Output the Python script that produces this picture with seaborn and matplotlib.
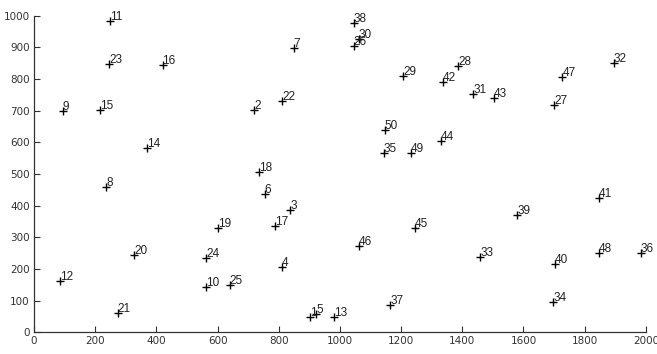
import matplotlib
matplotlib.use("Agg")
import matplotlib.pyplot as plt
from matplotlib import font_manager
import seaborn as sns
import pandas as pd

# point ids and their coordinates
ids = list(range(1, 51))
xs = [901, 720, 838, 811, 923, 754, 849, 236, 94, 562,
      249, 85, 980, 369, 216, 420, 787, 737, 603, 328,
      273, 811, 246, 563, 639, 1045, 1700, 1387, 1207, 1062,
      1436, 1896, 1458, 1698, 1143, 1984, 1165, 1045, 1580, 1702,
      1847, 1336, 1503, 1329, 1244, 1061, 1727, 1847, 1231, 1147]
ys = [47, 702, 386, 207, 58, 437, 897, 458, 699, 144,
      984, 163, 49, 581, 701, 843, 336, 507, 328, 244,
      62, 731, 847, 234, 149, 904, 718, 841, 809, 925,
      752, 851, 237, 95, 565, 251, 86, 976, 370, 216,
      423, 791, 739, 605, 328, 273, 807, 249, 565, 639]

x_ticks = list(range(0, 2001, 200))
y_ticks = list(range(0, 1001, 100))

df = pd.DataFrame({"x": xs, "y": ys, "id": ids})

sns.set_theme(style="ticks")
plt.rcParams["font.family"] = ["DejaVu Sans"]

installed = {f.name for f in font_manager.fontManager.ttflist}
label_family = ["Liberation Sans Narrow"] if "Liberation Sans Narrow" in installed else ["Liberation Sans"]

fig = plt.figure(figsize=(6.57, 3.54), dpi=100)
ax = fig.add_axes([0.0518, 0.0613, 0.9312, 0.8943])

sns.scatterplot(data=df, x="x", y="y", marker="+", color="black",
                s=30, linewidth=1.0, ax=ax, legend=False)

for i, x, y in zip(ids, xs, ys):
    ax.annotate(str(i), (x, y), xytext=(0, 3), textcoords="offset points",
                ha="left", va="center", fontsize=8.5, color="#222222",
                family=label_family)

ax.set_xlim(0, 2000)
ax.set_ylim(0, 1000)
ax.set_xticks(x_ticks)
ax.set_yticks(y_ticks)
ax.set_xlabel("")
ax.set_ylabel("")
ax.tick_params(direction="in", length=4, width=0.8, colors="#333333",
               labelsize=7.5, labelcolor="#333333", pad=3)
for side in ("top", "right"):
    ax.spines[side].set_visible(False)
for side in ("left", "bottom"):
    ax.spines[side].set_color("#333333")
    ax.spines[side].set_linewidth(0.9)

fig.savefig("out.png", dpi=100)
